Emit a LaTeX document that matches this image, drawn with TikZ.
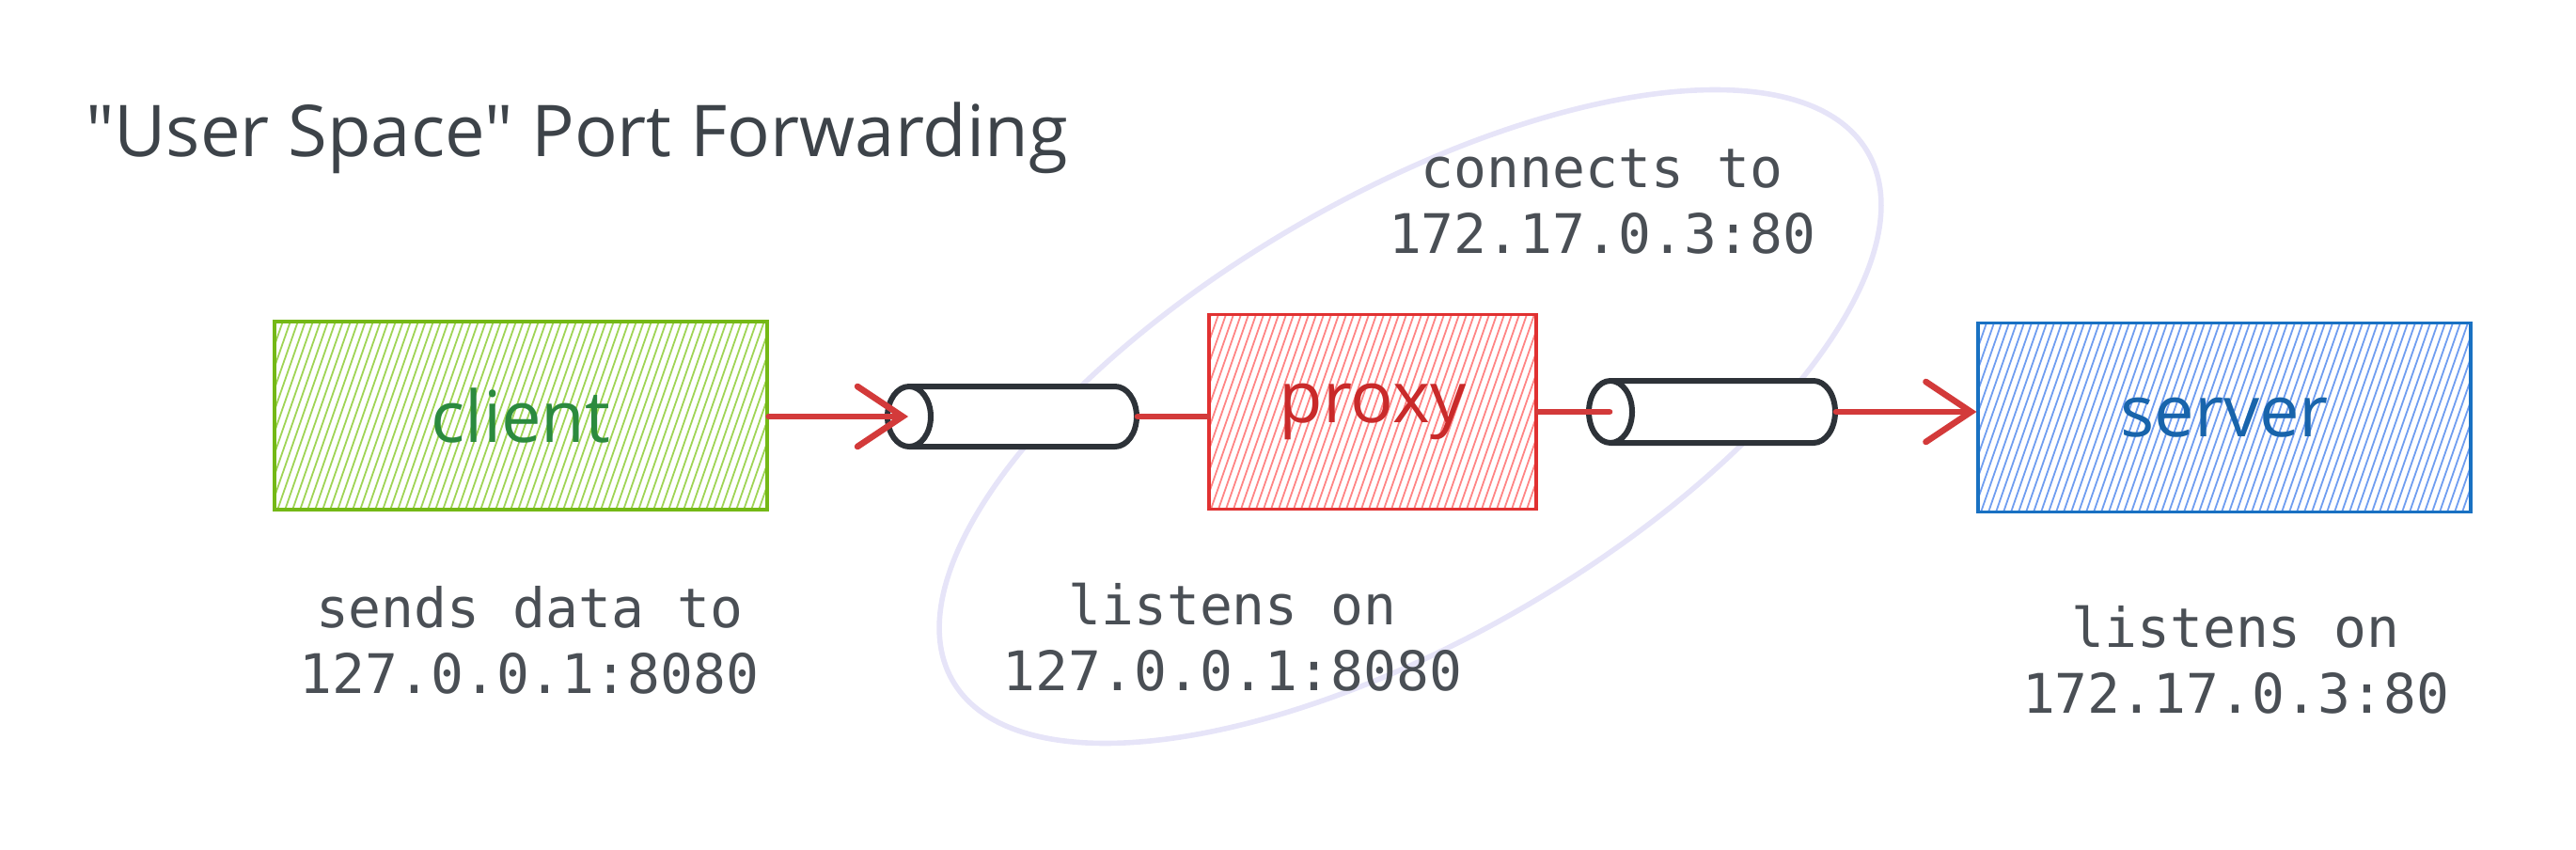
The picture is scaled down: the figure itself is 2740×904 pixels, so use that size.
\documentclass[tikz,border=0pt]{standalone}
\usepackage{fontspec}
\setmainfont{Open Sans}
\newfontfamily\titlef{Open Sans}[Ligatures=TeXOff]
\newfontfamily\monof{DejaVu Sans Mono}
\usetikzlibrary{arrows.meta,calc}
\definecolor{titlecol}{HTML}{3D4349}
\definecolor{monocol}{HTML}{4A4F55}
\definecolor{gstroke}{HTML}{74B816}
\definecolor{ghatch}{HTML}{9FD455}
\definecolor{gtext}{HTML}{2B8A3E}
\definecolor{rstroke}{HTML}{E03131}
\definecolor{rhatch}{HTML}{FF8585}
\definecolor{rtext}{HTML}{C92A2A}
\definecolor{bstroke}{HTML}{1971C2}
\definecolor{bhatch}{HTML}{6F9DF0}
\definecolor{btext}{HTML}{1864AB}
\definecolor{conncol}{HTML}{D33A3A}
\definecolor{cylcol}{HTML}{2D3238}
\definecolor{ellcol}{HTML}{E6E4F8}
\tikzset{
  sketchbox/.style 2 args={draw=#1, line width=1.6pt, inner sep=0pt,
    path picture={
      \foreach \i in {-40,...,40}{
        \draw[#2, line width=0.9pt]
          ($(path picture bounding box.center)+(\i*8-40,115)$) -- ++(80,-230);
      }}},
  boxlabel/.style={font=\fontsize{38}{44}\selectfont},
  pipeanchor/.style={inner sep=0pt, outer sep=0pt},
  cyl/.style={draw=cylcol, line width=3pt, fill=white, line join=round},
  conn/.style={draw=conncol, line width=3.3pt, line cap=round},
  tip/.style={-{Straight Barb[length=24pt,width=32pt,line cap=round]}},
  mono/.style={font=\monof\fontsize{29}{35}\selectfont, text=monocol, align=center},
}
\begin{document}
\begin{tikzpicture}[x=0.5pt,y=-0.5pt]
\useasboundingbox (0,0) rectangle (2740,904);
% lavender ellipse
\draw[ellcol, line width=2.8pt, rotate around={30:(1500,443)}]
  (1500,443) ellipse [x radius=562, y radius=236];
% title
\node[anchor=base west, font=\titlef\fontsize{38}{44}\selectfont, text=titlecol]
  (title) at (84,166) {"User Space" Port Forwarding};
% boxes
\node[sketchbox={gstroke}{ghatch}, minimum width=262pt, minimum height=100pt,
  boxlabel, text=gtext] (client) at (554,442) {client};
\node[sketchbox={rstroke}{rhatch}, minimum width=174pt, minimum height=103.5pt,
  boxlabel, text=rtext] (proxy) at (1460,438) {proxy};
\node[sketchbox={bstroke}{bhatch}, minimum width=262pt, minimum height=100.5pt,
  boxlabel, text=btext] (server) at (2366,444) {server};
% pipe A
\node[pipeanchor] (pipeA) at (967,443) {};
\node[pipeanchor] (pipeAe) at (1209,443) {};
\draw[cyl] (967,411) -- (1186,411)
  arc[start angle=-90, end angle=90, x radius=23, y radius=32] -- (967,475) -- cycle;
\draw[cyl] (967,443) ellipse [x radius=23, y radius=32];
% pipe B
\node[pipeanchor] (pipeB) at (1713,438) {};
\node[pipeanchor] (pipeBe) at (1952,438) {};
\draw[cyl] (1713,405) -- (1929,405)
  arc[start angle=-90, end angle=90, x radius=23, y radius=33] -- (1713,471) -- cycle;
\draw[cyl] (1713,438) ellipse [x radius=23, y radius=33];
% connectors
\draw[conn, tip] (client.east |- pipeA) -- (pipeA);
\draw[conn] (pipeAe) -- (proxy.west |- pipeAe);
\draw[conn] (proxy.east |- pipeB) -- (pipeB);
\draw[conn, tip] (pipeBe) -- (server.west |- pipeBe);
% labels
\node[mono] (conlbl) at (1704,215) {connects to\\172.17.0.3:80};
\node[mono] (clilbl) at (563,681) {sends data to\\127.0.0.1:8080};
\node[mono] (prxlbl) at (1311,678) {listens on\\127.0.0.1:8080};
\node[mono] (srvlbl) at (2378,702) {listens on\\172.17.0.3:80};
\end{tikzpicture}
\end{document}
